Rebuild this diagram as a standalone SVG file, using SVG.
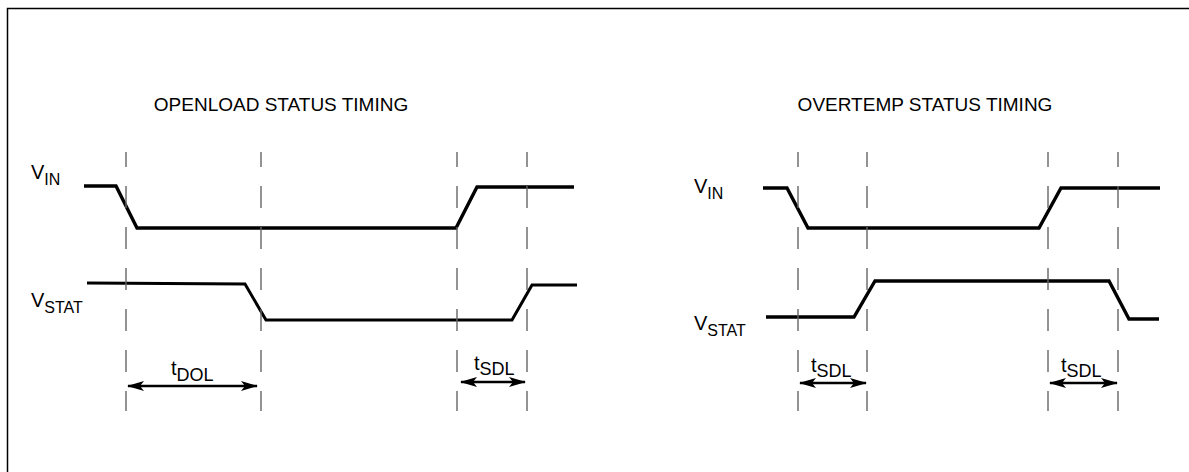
<svg xmlns="http://www.w3.org/2000/svg" width="1189" height="472" viewBox="0 0 1189 472">
<style>
.t{font-family:"Liberation Sans",Arial,sans-serif;fill:#000}
.title{font-size:19px}
.lbl{font-size:20px}
.sub{font-size:16px}
.tsub{font-size:18px}
.w{fill:none;stroke:#000;stroke-width:3.4;stroke-linejoin:miter}
.d{fill:none;stroke:#666;stroke-width:1.4;stroke-dasharray:22 19;stroke-dashoffset:7}
.a{fill:none;stroke:#000;stroke-width:2.5}
</style>
<defs>
<marker id="ah" viewBox="0 0 17 10" refX="16" refY="5" markerWidth="17" markerHeight="10" markerUnits="userSpaceOnUse" orient="auto-start-reverse">
<path d="M0,0 L17,5 L0,10 L4,5 Z" fill="#000"/>
</marker>
</defs>
<rect x="7.5" y="8.5" width="1190" height="480" fill="#fff" stroke="#000" stroke-width="1.5"/>
<g id="openload">
<text class="t title" x="281" y="111" text-anchor="middle">OPENLOAD STATUS TIMING</text>
<text class="t lbl" x="31" y="179">V<tspan class="sub" dy="6">IN</tspan></text>
<text class="t lbl" x="31" y="307">V<tspan class="sub" dy="6">STAT</tspan></text>
<path class="w" d="M84,186 H116 L137,228 H456 L477,187 H574"/>
<path class="w" style="stroke-width:3" d="M87,283 L245,284 L266,320 H512 L532,285 H577"/>
</g>
<g id="overtemp">
<text class="t title" x="925" y="111" text-anchor="middle">OVERTEMP STATUS TIMING</text>
<text class="t lbl" x="694" y="193">V<tspan class="sub" dy="6">IN</tspan></text>
<text class="t lbl" x="694" y="330">V<tspan class="sub" dy="6">STAT</tspan></text>
<path class="w" d="M763,188 H787 L808,228 H1039 L1061,188 H1160"/>
<path class="w" d="M766,317 H854 L875,281 H1109 L1129,319 H1159"/>
</g>
<g id="connectors">
<line class="d" x1="126" y1="152" x2="126" y2="411"/>
<line class="d" x1="261" y1="152" x2="261" y2="411"/>
<line class="d" x1="457" y1="152" x2="457" y2="411"/>
<line class="d" x1="527" y1="152" x2="527" y2="411"/>
<line class="d" x1="798" y1="152" x2="798" y2="411"/>
<line class="d" x1="867" y1="152" x2="867" y2="411"/>
<line class="d" x1="1048" y1="152" x2="1048" y2="411"/>
<line class="d" x1="1118" y1="152" x2="1118" y2="411"/>
<line class="a" x1="128" y1="386" x2="257" y2="386" marker-start="url(#ah)" marker-end="url(#ah)"/>
<line class="a" x1="461" y1="382" x2="525" y2="382" marker-start="url(#ah)" marker-end="url(#ah)"/>
<line class="a" x1="800" y1="383" x2="866" y2="383" marker-start="url(#ah)" marker-end="url(#ah)"/>
<line class="a" x1="1050" y1="383" x2="1117" y2="383" marker-start="url(#ah)" marker-end="url(#ah)"/>
</g>
<g id="labels">
<text class="t lbl" x="171" y="375">t<tspan class="tsub" dy="6">DOL</tspan></text>
<text class="t lbl" x="474" y="370">t<tspan class="tsub" dy="5">SDL</tspan></text>
<text class="t lbl" x="811" y="372">t<tspan class="tsub" dy="5">SDL</tspan></text>
<text class="t lbl" x="1061" y="372">t<tspan class="tsub" dy="5">SDL</tspan></text>
</g>
</svg>
